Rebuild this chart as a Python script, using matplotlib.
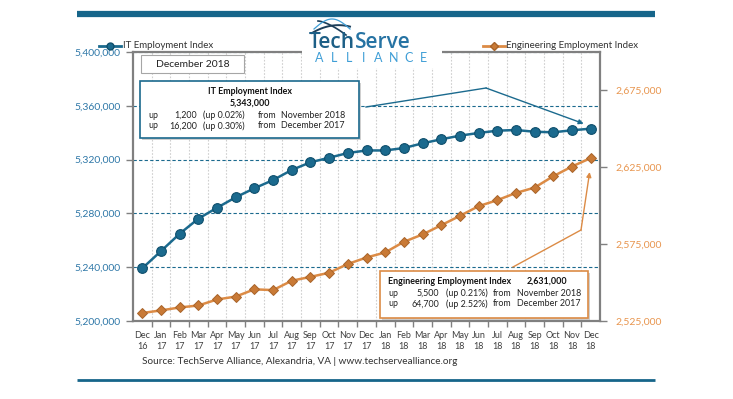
import numpy as np
import matplotlib.pyplot as plt
from matplotlib.patches import Rectangle, FancyArrowPatch

plt.rcParams['font.family'] = ['Lato', 'DejaVu Sans']

# данные
months = ['Dec\n16', 'Jan\n17', 'Feb\n17', 'Mar\n17', 'Apr\n17', 'May\n17', 'Jun\n17',
          'Jul\n17', 'Aug\n17', 'Sep\n17', 'Oct\n17', 'Nov\n17', 'Dec\n17',
          'Jan\n18', 'Feb\n18', 'Mar\n18', 'Apr\n18', 'May\n18', 'Jun\n18',
          'Jul\n18', 'Aug\n18', 'Sep\n18', 'Oct\n18', 'Nov\n18', 'Dec\n18']
it_index = [5239200, 5252000, 5264900, 5276100, 5284200, 5292000, 5298700,
            5304800, 5312300, 5318000, 5321400, 5324900, 5326800,
            5326800, 5328600, 5332100, 5335100, 5337800, 5339800,
            5341500, 5342000, 5340700, 5340300, 5341800, 5343000]
eng_index = [2530200, 2531900, 2533800, 2535100, 2539000, 2540900, 2545600,
             2545100, 2551200, 2553700, 2556400, 2562100, 2566300,
             2569600, 2576500, 2581300, 2587300, 2593400, 2599700,
             2603600, 2608300, 2611800, 2619200, 2625500, 2631000]
left_ticks = [5200000, 5240000, 5280000, 5320000, 5360000, 5400000]
right_ticks = [2525000, 2575000, 2625000, 2675000]

BLUE = '#1b6a8e'
BLUE_DARK = '#0f4f6d'
ORANGE = '#dc8b45'
ORANGE_DARK = '#a8642a'
GRAY = '#808080'

W, H = 733, 399
fig = plt.figure(figsize=(W / 100, H / 100), dpi=100)
ax = fig.add_axes([133 / W, 1 - 321 / H, (600 - 133) / W, (321 - 52) / H])
x = np.arange(len(months))

# оси и сетка
ax.set_xlim(-0.5, len(months) - 0.5)
ax.set_ylim(5200000, 5400000)
ax.set_yticks(left_ticks)
ax.set_yticklabels([f'{v:,}' for v in left_ticks])
ax.set_xticks(x)
ax.set_xticklabels(months, fontsize=6.5, color='#404040', linespacing=1.3)
ax.set_xticks(np.arange(0.5, len(months) - 1, 1), minor=True)
ax.tick_params(axis='x', which='major', length=0, pad=7)
ax.tick_params(axis='x', which='minor', length=4, color=GRAY, width=1)
ax.tick_params(axis='y', length=5, color=GRAY, width=1, labelsize=7.5,
               labelcolor='#2f78a8', pad=4)
ax.grid(axis='x', which='minor', color='#cfcfcf', linestyle=(0, (1.5, 1.5)), linewidth=0.8)
ax.grid(axis='y', which='major', color=BLUE, linestyle=(0, (3, 2)), linewidth=0.8)
for s in ax.spines.values():
    s.set_color(GRAY)
    s.set_linewidth(1.6)

# IT линия
ax.plot(x, it_index, color=BLUE, lw=1.8, marker='o', markersize=7,
        markerfacecolor=BLUE, markeredgecolor=BLUE_DARK, markeredgewidth=0.8, zorder=5)

# инженерная линия на правой оси
ax2 = ax.twinx()
ax2.set_ylim(2525000, 2700000)
ax2.set_yticks(right_ticks)
ax2.set_yticklabels([f'{v:,}' for v in right_ticks])
ax2.tick_params(axis='y', length=5, color=GRAY, width=1, labelsize=7.5,
                labelcolor='#e8954e', pad=6)
for s in ax2.spines.values():
    s.set_visible(False)
ax2.plot(x, eng_index, color=ORANGE, lw=1.8, marker='D', markersize=5.3,
         markerfacecolor='#c97a36', markeredgecolor=ORANGE_DARK, markeredgewidth=0.7, zorder=5)

# оверлей в пикселях
ov = fig.add_axes([0, 0, 1, 1], zorder=10)
ov.set_xlim(0, W)
ov.set_ylim(H, 0)
ov.axis('off')
ov.patch.set_alpha(0)


def to_px(axis, xv, yv):
    dx, dy = axis.transData.transform((xv, yv))
    return dx, H - dy


# полосы
ov.plot([77, 655], [14, 14], color='#16658a', lw=4.5, solid_capstyle='butt')
ov.plot([77, 655], [379.5, 379.5], color='#16658a', lw=2, solid_capstyle='butt')

# легенда
ov.plot([99, 121], [46, 46], color=BLUE, lw=2)
ov.plot([110], [46], marker='o', color=BLUE, markersize=5, markeredgecolor=BLUE_DARK)
ov.text(123, 46, 'IT Employment Index', fontsize=7, color='#333333', va='center')
ov.plot([483, 505], [46, 46], color=ORANGE, lw=2)
ov.plot([494], [46], marker='D', color='#c97a36', markersize=4.5, markeredgecolor=ORANGE_DARK)
ov.text(506, 46, 'Engineering Employment Index', fontsize=7, color='#333333', va='center')

# логотип
ov.add_patch(Rectangle((302, 22), 140, 46, facecolor='white', edgecolor='none'))
ov.text(355, 42, 'Tech', fontsize=15, weight='semibold', family='Open Sans',
        color='#1d5f86', ha='right', va='center')
ov.text(355, 42, 'Serve', fontsize=15, weight='semibold', family='Open Sans',
        color='#2673a3', ha='left', va='center')
for i, ch in enumerate('ALLIANCE'):
    ov.text(319 + i * 14.9, 58, ch, fontsize=9, color='#3f9ed6', ha='center', va='center')
t = np.linspace(0, 1, 30)
ov.plot(312 + 38 * t, 33 - 16 * t * (1.4 - t), color='#1d3f5a', lw=1.4)
ov.plot(318 + 28 * t, 21 + 14 * t ** 1.5, color='#1d3f5a', lw=1.2)
ov.plot(314 + 36 * t, 29 - 10 * np.sin(np.pi * t), color='#3f9ed6', lw=0.9)

# плашка с датой
ov.add_patch(Rectangle((141, 55), 103, 18, facecolor='white', edgecolor='#a6a6a6', lw=0.8))
ov.text(192.5, 64.5, 'December 2018', fontsize=7.5, color='#222222', ha='center', va='center')

# блок IT
fs = 6.4
ov.add_patch(Rectangle((142, 83), 219, 57, facecolor='#b0b0b0', edgecolor='none', alpha=0.6))
ov.add_patch(Rectangle((140, 81), 219, 57, facecolor='white', edgecolor=BLUE, lw=1.2))
ov.text(250, 91, 'IT Employment Index', fontsize=fs, weight='bold', color='#111111',
        ha='center', va='center')
ov.text(250, 103, '5,343,000', fontsize=fs, weight='bold', color='#111111',
        ha='center', va='center')
it_rows = [('1,200', '(up 0.02%)', 'November 2018'), ('16,200', '(up 0.30%)', 'December 2017')]
for yy, (n, p, m) in zip([115, 126], it_rows):
    ov.text(148, yy, 'up', fontsize=fs, color='#222222', va='center')
    ov.text(197, yy, n, fontsize=fs, color='#222222', va='center', ha='right')
    ov.text(203, yy, p, fontsize=fs, color='#222222', va='center')
    ov.text(258, yy, 'from', fontsize=fs, color='#222222', va='center')
    ov.text(281, yy, m, fontsize=fs, color='#222222', va='center')

# блок инженеров
ov.add_patch(Rectangle((382, 273), 208, 47, facecolor='#b0b0b0', edgecolor='none', alpha=0.6))
ov.add_patch(Rectangle((380, 271), 208, 47, facecolor='white', edgecolor=ORANGE, lw=1.2))
ov.text(388, 281.5, 'Engineering Employment Index', fontsize=fs, weight='bold',
        color='#111111', va='center')
ov.text(527, 281.5, '2,631,000', fontsize=fs, weight='bold', color='#111111', va='center')
eng_rows = [('5,500', '(up 0.21%)', 'November 2018'), ('64,700', '(up 2.52%)', 'December 2017')]
for yy, (n, p, m) in zip([293, 304], eng_rows):
    ov.text(388, yy, 'up', fontsize=fs, color='#222222', va='center')
    ov.text(439, yy, n, fontsize=fs, color='#222222', va='center', ha='right')
    ov.text(446, yy, p, fontsize=fs, color='#222222', va='center')
    ov.text(493, yy, 'from', fontsize=fs, color='#222222', va='center')
    ov.text(517, yy, m, fontsize=fs, color='#222222', va='center')

# выноски
px, py = to_px(ax, x[-1], it_index[-1])
ov.plot([366, 486], [107, 88], color=BLUE, lw=1)
ov.add_patch(FancyArrowPatch((486, 88), (px - 7, py - 5), arrowstyle='-|>', mutation_scale=7,
                             color=BLUE, lw=1, shrinkA=0, shrinkB=0))
px, py = to_px(ax2, x[-1], eng_index[-1])
ov.plot([513, 581], [267, 230], color=ORANGE, lw=1)
ov.add_patch(FancyArrowPatch((581, 230), (px - 1, py + 14), arrowstyle='-|>', mutation_scale=7,
                             color=ORANGE, lw=1, shrinkA=0, shrinkB=0))

# источник
ov.text(142, 362, 'Source: TechServe Alliance, Alexandria, VA | www.techservealliance.org',
        fontsize=7.2, color='#333333', va='center')

fig.savefig('out.png', dpi=100)
